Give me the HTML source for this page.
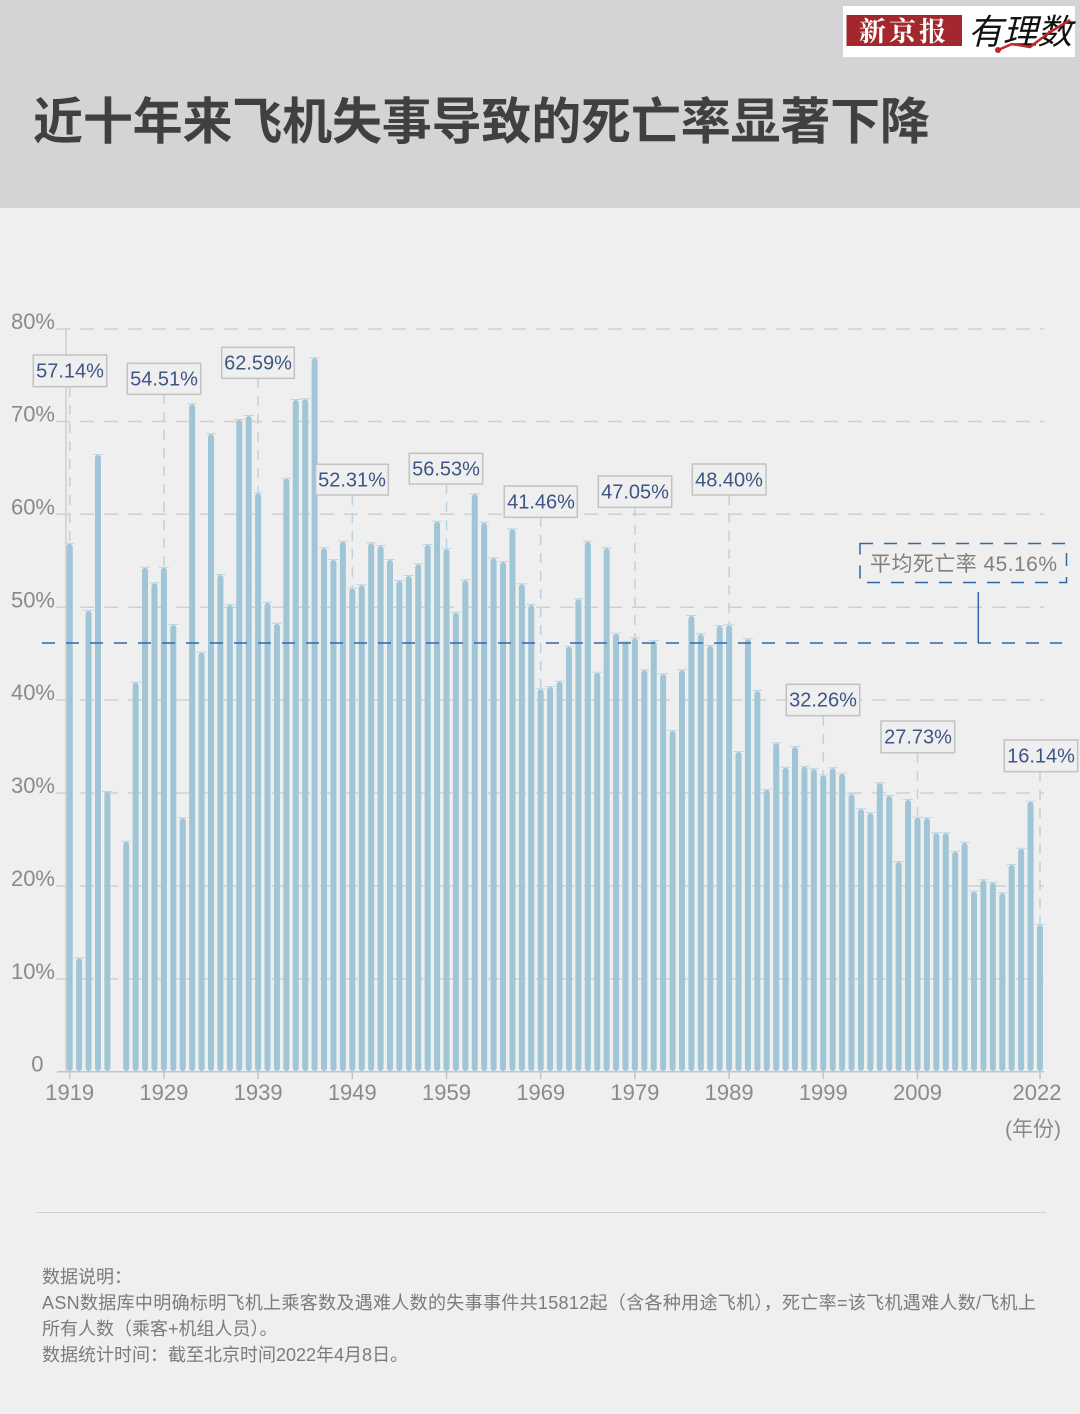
<!DOCTYPE html>
<html><head><meta charset="utf-8">
<style>
html,body{margin:0;padding:0;background:#efefef;}
svg{display:block;}
</style></head>
<body>
<svg width="1080" height="1414" viewBox="0 0 1080 1414" xmlns="http://www.w3.org/2000/svg">
<rect x="0" y="0" width="1080" height="1414" fill="#efefef"/>
<!-- header -->
<rect x="0" y="0" width="1080" height="208" fill="#d4d4d6"/>
<text x="33" y="139" font-family="'Liberation Sans','Noto Sans CJK SC',sans-serif" font-size="50" font-weight="bold" fill="#404040" textLength="897" lengthAdjust="spacing">近十年来飞机失事导致的死亡率显著下降</text>
<!-- logo -->
<rect x="843" y="6" width="232" height="51" fill="#ffffff"/>
<rect x="846.5" y="15" width="115.5" height="31" fill="#a3282d"/>
<text x="904" y="41" text-anchor="middle" font-family="'Noto Serif CJK SC','Noto Sans CJK SC',serif" font-size="27" font-weight="bold" fill="#ffffff" letter-spacing="3">新京报</text>
<text x="968" y="44" font-family="'Noto Sans CJK SC',sans-serif" font-size="35" font-style="italic" fill="#111" textLength="104" lengthAdjust="spacingAndGlyphs">有理数</text>
<polyline points="998,50 1012,44 1030,47 1050,32 1070,20" fill="none" stroke="#c0262b" stroke-width="2.5"/>
<circle cx="998" cy="50" r="3" fill="#c0262b"/>

<!-- gridlines -->
<g stroke="#d0d0d0" stroke-width="1.5" stroke-dasharray="14 10" fill="none">
<path d="M56 329H1044M56 421.5H1044M56 514.3H1044M56 607.3H1044M56 700H1044M56 793H1044M56 886H1044M56 979H1044"/>
</g>
<!-- y axis line -->
<path d="M66 329V1071" stroke="#cfcfcf" stroke-width="1.5"/>

<!-- y labels -->
<g font-family="'Liberation Sans',sans-serif" font-size="22" fill="#8a8a8a" text-anchor="end">
<text x="55" y="329">80%</text>
<text x="55" y="421.5">70%</text>
<text x="55" y="514.3">60%</text>
<text x="55" y="607.3">50%</text>
<text x="55" y="700">40%</text>
<text x="55" y="793">30%</text>
<text x="55" y="886">20%</text>
<text x="55" y="979">10%</text>
<text x="43.5" y="1071.5">0</text>
</g>

<!-- leader lines -->
<g stroke="#bcd2e0" stroke-width="1.5" stroke-dasharray="10 8" fill="none">
<path d="M69.7 387V542M163.9 394V566M258.1 378V492M352.3 495V587M446.5 484V548M540.7 517V688M634.9 507V637M729.1 495V624M823.3 716V774M917.5 753V816M1040 772V924"/>
</g>

<!-- bars -->
<path fill="none" stroke="#9fc5d7" stroke-width="6" stroke-linecap="round" d="
M69.7 546.7V1068M79.12 961.3V1068M88.54 614V1068M97.96 458V1068M107.38 795V1068
M126.22 844.7V1068M135.64 685.7V1068M145.06 570.7V1068M154.48 586.3V1068M163.9 570.7V1068
M173.32 628V1068M182.74 821.3V1068M192.16 407.3V1068M201.58 655.7V1068M211 437.3V1068
M220.42 578V1068M229.84 608V1068M239.26 423V1068M248.68 419V1068M258.1 496.3V1068
M267.52 605.7V1068M276.94 626.7V1068M286.36 481.7V1068M295.78 403V1068M305.2 402.3V1068
M314.62 361.3V1068M324.04 551.3V1068M333.46 563V1068M342.88 544.7V1068M352.3 591.5V1068
M361.72 588.3V1068M371.14 546.3V1068M380.56 549V1068M389.98 563V1068M399.4 584V1068
M408.82 579V1068M418.24 567.3V1068M427.66 548V1068M437.08 524.7V1068M446.5 552.3V1068
M455.92 615.7V1068M465.34 583.3V1068M474.76 497.3V1068M484.18 525.7V1068M493.6 561.3V1068
M503.02 565V1068M512.44 532.3V1068M521.86 587.3V1068M531.28 608V1068M540.7 692.3V1068
M550.12 690V1068M559.54 684.7V1068M568.96 649.7V1068M578.38 602.3V1068M587.8 544.7V1068
M597.22 675.7V1068M606.64 551.3V1068M616.06 636.7V1068M625.48 645V1068M634.9 641.3V1068
M644.32 673.3V1068M653.74 644V1068M663.16 677.3V1068M672.58 734V1068M682 673.3V1068
M691.42 619V1068M700.84 637.3V1068M710.26 649V1068M719.68 629V1068M729.1 628.3V1068
M738.52 755V1068M747.94 642.3V1068M757.36 694V1068M766.78 793V1068M776.2 746.3V1068
M785.62 770.7V1068M795.04 750V1068M804.46 769.7V1068M813.88 772.3V1068M823.3 778.3V1068
M832.72 771.3V1068M842.14 776.7V1068M851.56 797.3V1068M860.98 812.3V1068M870.4 816.3V1068
M879.82 786.3V1068M889.24 799V1068M898.66 865V1068M908.08 803V1068M917.5 820.7V1068
M926.92 821.3V1068M936.34 836.3V1068M945.76 836.3V1068M955.18 854.7V1068M964.6 845.7V1068
M974.02 894.7V1068M983.44 883.3V1068M992.86 885.7V1068M1002.28 896.3V1068M1011.7 868V1068
M1021.12 851.7V1068M1030.54 804.7V1068M1039.96 928V1068"/>
<!-- bar caps -->
<path fill="none" stroke="#bcd6e3" stroke-width="1" d="
M64.7 543.2h10M74.12 957.8h10M83.54 610.5h10M92.96 454.5h10M102.38 791.5h10
M121.22 841.2h10M130.64 682.2h10M140.06 567.2h10M149.48 582.8h10M158.9 567.2h10
M168.32 624.5h10M177.74 817.8h10M187.16 403.8h10M196.58 652.2h10M206 433.8h10
M215.42 574.5h10M224.84 604.5h10M234.26 419.5h10M243.68 415.5h10M253.1 492.8h10
M262.52 602.2h10M271.94 623.2h10M281.36 478.2h10M290.78 399.5h10M300.2 398.8h10
M309.62 357.8h10M319.04 547.8h10M328.46 559.5h10M337.88 541.2h10M347.3 588h10
M356.72 584.8h10M366.14 542.8h10M375.56 545.5h10M384.98 559.5h10M394.4 580.5h10
M403.82 575.5h10M413.24 563.8h10M422.66 544.5h10M432.08 521.2h10M441.5 548.8h10
M450.92 612.2h10M460.34 579.8h10M469.76 493.8h10M479.18 522.2h10M488.6 557.8h10
M498.02 561.5h10M507.44 528.8h10M516.86 583.8h10M526.28 604.5h10M535.7 688.8h10
M545.12 686.5h10M554.54 681.2h10M563.96 646.2h10M573.38 598.8h10M582.8 541.2h10
M592.22 672.2h10M601.64 547.8h10M611.06 633.2h10M620.48 641.5h10M629.9 637.8h10
M639.32 669.8h10M648.74 640.5h10M658.16 673.8h10M667.58 730.5h10M677 669.8h10
M686.42 615.5h10M695.84 633.8h10M705.26 645.5h10M714.68 625.5h10M724.1 624.8h10
M733.52 751.5h10M742.94 638.8h10M752.36 690.5h10M761.78 789.5h10M771.2 742.8h10
M780.62 767.2h10M790.04 746.5h10M799.46 766.2h10M808.88 768.8h10M818.3 774.8h10
M827.72 767.8h10M837.14 773.2h10M846.56 793.8h10M855.98 808.8h10M865.4 812.8h10
M874.82 782.8h10M884.24 795.5h10M893.66 861.5h10M903.08 799.5h10M912.5 817.2h10
M921.92 817.8h10M931.34 832.8h10M940.76 832.8h10M950.18 851.2h10M959.6 842.2h10
M969.02 891.2h10M978.44 879.8h10M987.86 882.2h10M997.28 892.8h10M1006.7 864.5h10
M1016.12 848.2h10M1025.54 801.2h10M1034.96 924.5h10"/>

<!-- x axis -->
<path d="M57 1071.7H1044" stroke="#c4c4c4" stroke-width="1.5"/>
<path d="M69.7 1072V1079M163.9 1072V1079M258.1 1072V1079M352.3 1072V1079M446.5 1072V1079M540.7 1072V1079M634.9 1072V1079M729.1 1072V1079M823.3 1072V1079M917.5 1072V1079M1040 1072V1079" stroke="#c4c4c4" stroke-width="1.5"/>
<g font-family="'Liberation Sans',sans-serif" font-size="22" fill="#8a8a8a" text-anchor="middle">
<text x="69.7" y="1100">1919</text>
<text x="163.9" y="1100">1929</text>
<text x="258.1" y="1100">1939</text>
<text x="352.3" y="1100">1949</text>
<text x="446.5" y="1100">1959</text>
<text x="540.7" y="1100">1969</text>
<text x="634.9" y="1100">1979</text>
<text x="729.1" y="1100">1989</text>
<text x="823.3" y="1100">1999</text>
<text x="917.5" y="1100">2009</text>
<text x="1037" y="1100">2022</text>
</g>
<text x="1033" y="1136" text-anchor="middle" font-family="'Liberation Sans','Noto Sans CJK SC',sans-serif" font-size="21" fill="#8a8a8a">(年份)</text>

<!-- average line -->
<path d="M42 643H1062" stroke="#2f68aa" stroke-width="1.5" stroke-dasharray="13 11" fill="none"/>
<path d="M978.3 592V643" stroke="#2f68aa" stroke-width="1.5" fill="none"/>
<rect x="860" y="543.5" width="206.5" height="39" fill="none" stroke="#2f68aa" stroke-width="1.5" stroke-dasharray="13 11"/>
<text x="870" y="571" font-family="'Liberation Sans','Noto Sans CJK SC',sans-serif" font-size="21" fill="#808080" textLength="187" lengthAdjust="spacing">平均死亡率 45.16%</text>

<!-- annotation boxes -->
<g stroke="#c2c2c2" stroke-width="1.5" fill="#efefef">
<rect x="33.3" y="355" width="73.4" height="31.7"/>
<rect x="127.3" y="363.3" width="73.4" height="31"/>
<rect x="221.7" y="347.3" width="72.6" height="31"/>
<rect x="315.7" y="464.3" width="72.6" height="30.7"/>
<rect x="409.3" y="453.3" width="73.4" height="30.7"/>
<rect x="504.3" y="486" width="73" height="31.3"/>
<rect x="598.3" y="476" width="73.4" height="31.3"/>
<rect x="692.3" y="464" width="73.7" height="31"/>
<rect x="786.3" y="684.3" width="73.4" height="31.4"/>
<rect x="881" y="721" width="73.7" height="31.7"/>
<rect x="1004.3" y="740" width="73.4" height="31.7"/>
</g>
<g font-family="'Liberation Sans',sans-serif" font-size="20" fill="#3e5585" text-anchor="middle">
<text x="70" y="377.5">57.14%</text>
<text x="164" y="385.5">54.51%</text>
<text x="258" y="369.5">62.59%</text>
<text x="352" y="486.5">52.31%</text>
<text x="446" y="475.5">56.53%</text>
<text x="541" y="508.5">41.46%</text>
<text x="635" y="498.5">47.05%</text>
<text x="729" y="486.5">48.40%</text>
<text x="823" y="706.5">32.26%</text>
<text x="918" y="743.5">27.73%</text>
<text x="1041" y="762.5">16.14%</text>
</g>

<!-- separator -->
<path d="M36 1212.5H1046" stroke="#cfcfcf" stroke-width="1"/>

<!-- notes -->
<g font-family="'Liberation Sans','Noto Sans CJK SC',sans-serif" font-size="18" fill="#7b7b7b">
<text x="42" y="1283">数据说明：</text>
<text x="42" y="1309" textLength="994" lengthAdjust="spacing">ASN数据库中明确标明飞机上乘客数及遇难人数的失事事件共15812起（含各种用途飞机），死亡率=该飞机遇难人数/飞机上</text>
<text x="42" y="1335">所有人数（乘客+机组人员）。</text>
<text x="42" y="1361">数据统计时间：截至北京时间2022年4月8日。</text>
</g>
</svg>
</body></html>
